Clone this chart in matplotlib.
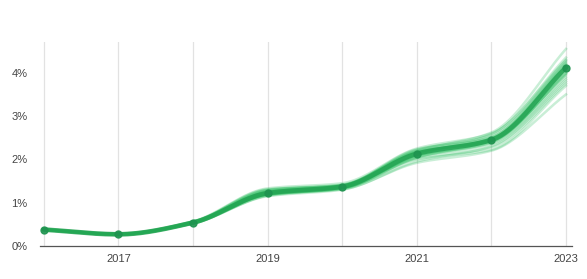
import numpy as np
import matplotlib
matplotlib.use("Agg")
import matplotlib.pyplot as plt
from matplotlib.ticker import FuncFormatter

years = [2016, 2017, 2018, 2019, 2020, 2021, 2022, 2023]
main_values = [0.38, 0.27, 0.54, 1.22, 1.37, 2.13, 2.45, 4.12]

ensemble = [
    [0.39, 0.28, 0.55, 1.25, 1.38, 2.15, 2.48, 4.20],
    [0.37, 0.26, 0.53, 1.18, 1.33, 2.05, 2.40, 3.98],
    [0.38, 0.29, 0.56, 1.30, 1.42, 2.22, 2.55, 4.28],
    [0.38, 0.27, 0.52, 1.15, 1.30, 1.95, 2.30, 3.80],
    [0.39, 0.28, 0.54, 1.27, 1.40, 2.18, 2.42, 4.05],
    [0.37, 0.27, 0.55, 1.20, 1.36, 2.10, 2.50, 4.22],
    [0.38, 0.26, 0.53, 1.23, 1.34, 2.08, 2.38, 3.90],
    [0.38, 0.28, 0.57, 1.33, 1.45, 2.25, 2.60, 4.35],
    [0.38, 0.27, 0.54, 1.19, 1.32, 2.00, 2.22, 3.70],
    [0.39, 0.29, 0.55, 1.24, 1.39, 2.14, 2.47, 4.15],
    [0.37, 0.26, 0.52, 1.17, 1.35, 2.12, 2.44, 3.95],
    [0.38, 0.27, 0.56, 1.28, 1.41, 2.20, 2.52, 4.25],
    [0.38, 0.28, 0.53, 1.21, 1.37, 2.06, 2.35, 3.85],
    [0.38, 0.27, 0.54, 1.26, 1.38, 2.16, 2.46, 4.10],
    [0.37, 0.26, 0.55, 1.22, 1.36, 2.11, 2.58, 4.30],
    [0.39, 0.28, 0.54, 1.24, 1.36, 2.02, 2.28, 3.75],
    [0.38, 0.27, 0.53, 1.20, 1.38, 2.17, 2.43, 4.00],
    [0.38, 0.28, 0.56, 1.29, 1.40, 2.23, 2.49, 4.18],
    [0.38, 0.27, 0.54, 1.23, 1.35, 2.09, 2.41, 3.98],
    [0.37, 0.26, 0.52, 1.16, 1.33, 2.04, 2.45, 4.08],
    [0.38, 0.27, 0.55, 1.31, 1.39, 2.19, 2.62, 4.55],
    [0.38, 0.27, 0.53, 1.19, 1.31, 1.92, 2.20, 3.50],
]

x_tick_labels = ["2017", "2019", "2021", "2023"]
y_ticks = [0, 1, 2, 3, 4]


def monotone_curve(x, y, n=40):
    """Monotone cubic (Fritsch-Carlson) rendering of a line through points."""
    x = np.asarray(x, float)
    y = np.asarray(y, float)
    h = np.diff(x)
    d = np.diff(y) / h
    m = np.zeros_like(y)
    m[0] = d[0]
    m[-1] = d[-1]
    for i in range(1, len(y) - 1):
        if d[i - 1] * d[i] <= 0:
            m[i] = 0
        else:
            m[i] = 3 * (h[i - 1] + h[i]) / ((2 * h[i] + h[i - 1]) / d[i - 1] + (h[i] + 2 * h[i - 1]) / d[i])
    xs, ys = [], []
    for i in range(len(x) - 1):
        t = np.linspace(0, 1, n, endpoint=(i == len(x) - 2))
        h00 = 2 * t**3 - 3 * t**2 + 1
        h10 = t**3 - 2 * t**2 + t
        h01 = -2 * t**3 + 3 * t**2
        h11 = t**3 - t**2
        xs.append(x[i] + t * h[i])
        ys.append(h00 * y[i] + h10 * h[i] * m[i] + h01 * y[i + 1] + h11 * h[i] * m[i + 1])
    return np.concatenate(xs), np.concatenate(ys)


plt.rcParams['font.family'] = ['Liberation Sans', 'DejaVu Sans']

fig = plt.figure(figsize=(5.87, 2.79), dpi=100)
ax = fig.add_axes([40 / 587, 1 - 246 / 279, (572 - 40) / 587, (246 - 42) / 279])

for yr in years:
    ax.axvline(yr, color="#e2e2e2", lw=0.9, zorder=0)

for series in ensemble:
    cx, cy = monotone_curve(years, series)
    ax.plot(cx, cy, color="#2fbf62", lw=1.8, alpha=0.26, zorder=2)

cx, cy = monotone_curve(years, main_values)
ax.plot(cx, cy, color="#23a352", lw=3.4, alpha=0.85, zorder=3, solid_capstyle="round")
ax.plot(years, main_values, "o", color="#1f9450", ms=5, alpha=0.9, zorder=4)

ax.set_xlim(2015.95, 2023.08)
ax.set_ylim(0, 4.71)
ax.set_xticks([int(s) for s in x_tick_labels])
ax.set_xticklabels(x_tick_labels)
ax.set_yticks(y_ticks)
ax.yaxis.set_major_formatter(FuncFormatter(lambda v, p: f"{int(v)}%"))

for side in ["top", "right", "left"]:
    ax.spines[side].set_visible(False)
ax.spines["bottom"].set_color("#555555")
ax.spines["bottom"].set_linewidth(0.9)
ax.tick_params(axis="both", length=0, labelsize=8, colors="#444444")
ax.tick_params(axis="x", pad=6)
ax.tick_params(axis="y", pad=9)

fig.savefig("out.png", dpi=100)
